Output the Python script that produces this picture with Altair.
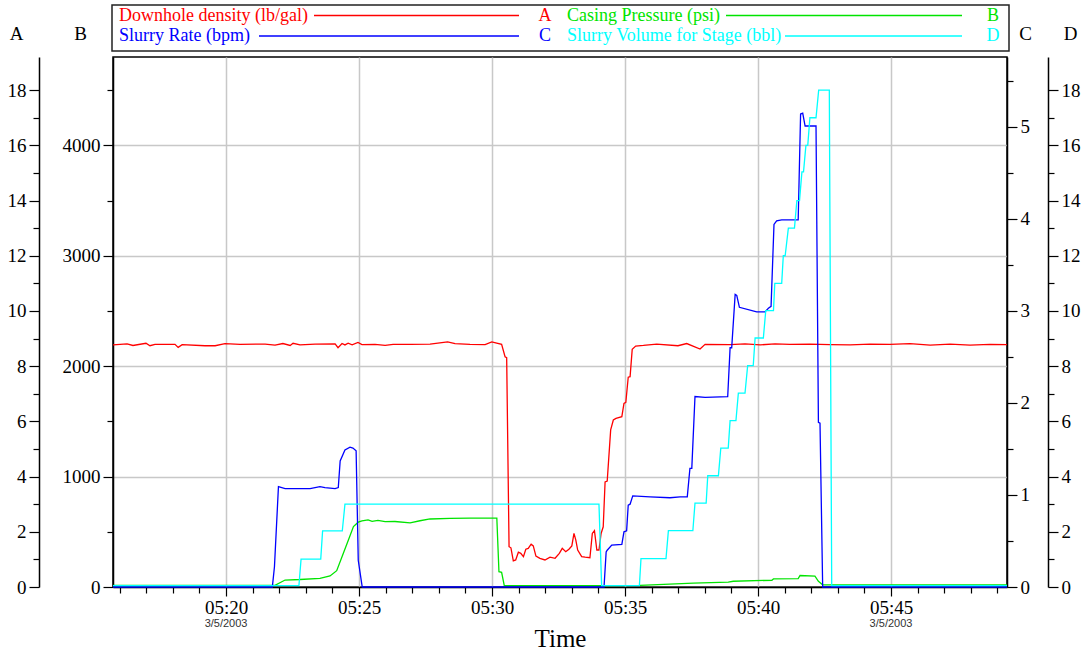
import altair as alt
import pandas as pd

SERIF = "Liberation Serif"

# time = minutes after 05:00 (3/5/2003)
density = [  # Downhole density (lb/gal), axis A
    [15.75, 8.77], [16.28, 8.81], [16.50, 8.75], [16.99, 8.83], [17.14, 8.74], [17.33, 8.79],
    [18.08, 8.79], [18.20, 8.68], [18.35, 8.78], [19.21, 8.74], [19.59, 8.74], [19.96, 8.82],
    [20.53, 8.79], [21.47, 8.80], [21.84, 8.76], [22.14, 8.82], [22.41, 8.75], [22.52, 8.83],
    [22.78, 8.77], [23.35, 8.80], [24.10, 8.81], [24.21, 8.67], [24.36, 8.82], [24.47, 8.77],
    [24.59, 8.83], [24.74, 8.77], [24.96, 8.86], [25.11, 8.78], [25.60, 8.79], [25.98, 8.75],
    [26.28, 8.79], [26.92, 8.79], [27.67, 8.80], [28.33, 8.88], [28.61, 8.82], [29.17, 8.79],
    [29.74, 8.78], [29.99, 8.88], [30.36, 8.79], [30.49, 8.34], [30.55, 8.31], [30.64, 1.46],
    [30.71, 1.42], [30.80, 0.95], [30.89, 0.98], [30.99, 1.26], [31.08, 1.22], [31.18, 1.10],
    [31.27, 1.37], [31.36, 1.40], [31.47, 1.55], [31.55, 1.49], [31.65, 1.12], [31.80, 1.04],
    [31.99, 0.98], [32.18, 1.08], [32.37, 1.04], [32.53, 1.22], [32.64, 1.40], [32.77, 1.28],
    [32.89, 1.37], [33.00, 1.49], [33.08, 1.94], [33.15, 1.70], [33.22, 1.34], [33.37, 1.10],
    [33.50, 1.08], [33.68, 1.06], [33.77, 1.94], [33.85, 2.04], [33.94, 1.34], [34.02, 1.34],
    [34.10, 1.94], [34.18, 2.18], [34.25, 3.81], [34.33, 3.84], [34.46, 5.69], [34.56, 6.05],
    [34.66, 6.11], [34.88, 6.17], [34.96, 6.65], [35.03, 6.69], [35.12, 7.60], [35.19, 7.62],
    [35.27, 8.61], [35.40, 8.73], [35.69, 8.75], [36.19, 8.80], [36.99, 8.74], [37.32, 8.82],
    [37.82, 8.62], [38.01, 8.79], [38.95, 8.78], [39.51, 8.81], [40.08, 8.77], [40.64, 8.81],
    [41.20, 8.79], [41.95, 8.80], [42.71, 8.78], [43.46, 8.77], [44.21, 8.80], [44.96, 8.79],
    [45.71, 8.82], [46.47, 8.76], [47.22, 8.80], [47.97, 8.76], [48.72, 8.79], [49.36, 8.78],
]

pressure = [  # Casing Pressure (psi), axis B
    [15.75, 15], [21.84, 15], [22.22, 63], [22.78, 68], [23.53, 79], [23.91, 100],
    [24.16, 148], [24.41, 305], [24.60, 426], [24.79, 547], [24.97, 587], [25.11, 598],
    [25.34, 607], [25.49, 595], [25.71, 603], [25.98, 592], [26.35, 593], [26.92, 580],
    [27.29, 600], [27.67, 616], [28.42, 622], [29.17, 623], [30.18, 623], [30.26, 139],
    [30.36, 133], [30.46, 12], [34.06, 12], [35.56, 15], [37.57, 36], [38.88, 45],
    [39.07, 52], [40.52, 61], [40.58, 73], [41.51, 76], [41.58, 104], [42.14, 98],
    [42.27, 52], [42.43, 20], [49.36, 20],
]

rate = [  # Slurry Rate (bpm), axis C
    [15.75, 0], [21.74, 0], [21.82, 0.22], [21.97, 1.09], [22.22, 1.07], [22.78, 1.07],
    [23.16, 1.07], [23.53, 1.09], [23.72, 1.08], [24.10, 1.07], [24.22, 1.08], [24.29, 1.37],
    [24.47, 1.49], [24.66, 1.52], [24.77, 1.51], [24.89, 1.48], [24.97, 0.29], [25.12, 0],
    [34.21, 0], [34.29, 0.38], [34.33, 0.40], [34.50, 0.455], [34.88, 0.463], [34.96, 0.60],
    [35.06, 0.61], [35.12, 0.89], [35.19, 0.90], [35.29, 0.99], [35.94, 0.98], [36.69, 0.97],
    [37.07, 0.98], [37.34, 0.98], [37.44, 1.29], [37.51, 1.29], [37.63, 2.07], [38.01, 2.06],
    [38.86, 2.07], [38.95, 2.60], [39.01, 2.60], [39.14, 3.18], [39.20, 3.17], [39.30, 3.04],
    [39.95, 2.99], [40.26, 2.99], [40.39, 3.03], [40.49, 3.05], [40.60, 3.94], [40.70, 3.98],
    [40.89, 3.99], [41.51, 3.99], [41.60, 5.14], [41.68, 5.15], [41.77, 5.01], [42.18, 5.01],
    [42.27, 1.79], [42.33, 1.78], [42.43, 0], [49.36, 0],
]

volume = [  # Slurry Volume for Stage (bbl), axis D
    [15.75, 0.05], [22.74, 0.05], [22.82, 1.01], [23.56, 1.01], [23.63, 2.03], [24.37, 2.03],
    [24.47, 3.00], [34.02, 3.00], [34.12, 0.05], [35.54, 0.05], [35.60, 1.03], [36.54, 1.03],
    [36.63, 2.04], [37.55, 2.04], [37.63, 3.04], [38.05, 3.04], [38.11, 4.03], [38.51, 4.03],
    [38.60, 5.03], [38.88, 5.03], [38.95, 6.03], [39.17, 6.03], [39.26, 7.02], [39.51, 7.02],
    [39.61, 8.02], [39.82, 8.02], [39.89, 9.02], [40.20, 9.02], [40.29, 10.01], [40.58, 10.01],
    [40.63, 11.0], [40.89, 11.0], [40.95, 12.0], [41.02, 12.0], [41.14, 13.0], [41.37, 13.0],
    [41.46, 14.0], [41.56, 14.0], [41.65, 15.04], [41.71, 15.04], [41.80, 16.0], [41.87, 16.0],
    [41.95, 17.0], [42.18, 17.0], [42.28, 18.0], [42.68, 18.0], [42.77, 0.05], [49.36, 0.05],
]

series_names = ["Downhole density (lb/gal)", "Casing Pressure (psi)",
                "Slurry Rate (bpm)", "Slurry Volume for Stage (bbl)"]
series_letters = ["A", "B", "C", "D"]
series_colors = ["#ff0000", "#00e400", "#0000ff", "#00ffff"]
series_data = [density, pressure, rate, volume]
axis_max = [19.2, 4800, 5.76, 19.2]
axis_values = [list(range(0, 19)), list(range(0, 5000, 500)),
               [i * 0.5 for i in range(12)], list(range(0, 19))]
axis_label_test = ["datum.value % 2 == 0", "datum.value % 1000 == 0",
                   "datum.value % 1 == 0", "datum.value % 2 == 0"]
time_ticks = list(range(16, 50))
date_ticks = [20, 45]
date_text = ["3/5/2003", "3/5/2003"]

W, H = 894, 530

x_enc = alt.X(
    "t:Q",
    scale=alt.Scale(domain=[15.75, 49.36], nice=False, zero=False),
    axis=alt.Axis(
        values=time_ticks,
        labelExpr="datum.value % 5 == 0 ? '05:' + datum.value : ''",
        tickSize={"condition": {"test": "datum.value % 5 == 0", "value": 9}, "value": 6},
        grid=True,
        gridColor={"condition": {"test": "datum.value % 5 == 0", "value": "#c8c8c8"},
                   "value": "rgba(0,0,0,0)"},
        gridWidth=1.5,
        title="Time", titleFont=SERIF, titleFontSize=25, titleFontWeight="normal",
        titleColor="black", titleY=51, titleBaseline="middle",
        labelFont=SERIF, labelFontSize=19, labelColor="black", labelPadding=2,
        labelOverlap=False, labelFlush=False, labelBound=False,
        domainColor="black", domainWidth=1.5, tickColor="black", tickWidth=1.2,
    ),
)

axis_pos = [("left", 74, -23), ("left", 0, -33), ("right", 0, 18), ("right", 41, 22)]

layers = []
for i in range(4):
    df = pd.DataFrame(series_data[i], columns=["t", "v"])
    orient, offset, tx = axis_pos[i]
    ax = alt.Axis(
        orient=orient, offset=offset, values=axis_values[i],
        labelExpr=f"{axis_label_test[i]} ? format(datum.value, 'd') : ''",
        tickSize={"condition": {"test": axis_label_test[i], "value": 10}, "value": 6},
        grid=(i == 1),
        gridColor={"condition": {"test": axis_label_test[i], "value": "#c8c8c8"},
                   "value": "rgba(0,0,0,0)"},
        gridWidth=1.5,
        title=series_letters[i], titleAngle=0, titleX=tx, titleY=-24,
        titleAlign="center", titleBaseline="middle",
        titleFont=SERIF, titleFontSize=19, titleFontWeight="normal", titleColor="black",
        labelFont=SERIF, labelFontSize=19, labelColor="black", labelPadding=3,
        labelOverlap=False, labelFlush=False, labelBound=False,
        domainColor="black", domainWidth=1.5, tickColor="black", tickWidth=1.2,
    )
    layers.append(
        alt.Chart(df).mark_line(color=series_colors[i], strokeWidth=1.3).encode(
            x=x_enc,
            y=alt.Y("v:Q", scale=alt.Scale(domain=[0, axis_max[i]], nice=False, zero=True), axis=ax),
        )
    )

# date under selected time labels
date_df = pd.DataFrame({"t": date_ticks, "d": date_text})
layers.append(
    alt.Chart(date_df).mark_text(font="Liberation Sans", fontSize=11, color="#333333",
                                 baseline="middle", align="center").encode(
        x=x_enc, y=alt.value(H + 37), text="d:N")
)

# legend box
one = pd.DataFrame({"k": [0]})
layers.append(
    alt.Chart(one).mark_rect(fillOpacity=0, stroke="#222222", strokeWidth=1.5).encode(
        x=alt.value(-1), x2=alt.value(896), y=alt.value(-52), y2=alt.value(-6))
)

legend_pos = [  # text x, line x1, line x2, letter x, y
    (6, 201, 406, 432, -41.5),
    (454, 613, 849, 880, -41.5),
    (6, 146, 406, 432, -21),
    (454, 672, 849, 880, -21),
]
for i in range(4):
    tx, lx1, lx2, ltx, ly = legend_pos[i]
    col = series_colors[i]
    layers.append(
        alt.Chart(pd.DataFrame({"s": [series_names[i]]})).mark_text(
            font=SERIF, fontSize=18, color=col, align="left", baseline="middle").encode(
            x=alt.value(tx), y=alt.value(ly), text="s:N")
    )
    layers.append(
        alt.Chart(one).mark_rule(color=col, strokeWidth=1.3).encode(
            x=alt.value(lx1), x2=alt.value(lx2), y=alt.value(ly))
    )
    layers.append(
        alt.Chart(pd.DataFrame({"s": [series_letters[i]]})).mark_text(
            font=SERIF, fontSize=18, color=col, align="center", baseline="middle").encode(
            x=alt.value(ltx), y=alt.value(ly), text="s:N")
    )

chart = alt.layer(*layers).resolve_scale(y="independent").properties(
    width=W, height=H,
    autosize=alt.AutoSizeParams(type="none"),
    padding={"left": 113, "top": 57, "right": 77, "bottom": 67},
    background="white",
).configure_view(stroke="black", strokeWidth=1.5)

chart.save("out.html", embed_options={"renderer": "svg", "actions": False})
